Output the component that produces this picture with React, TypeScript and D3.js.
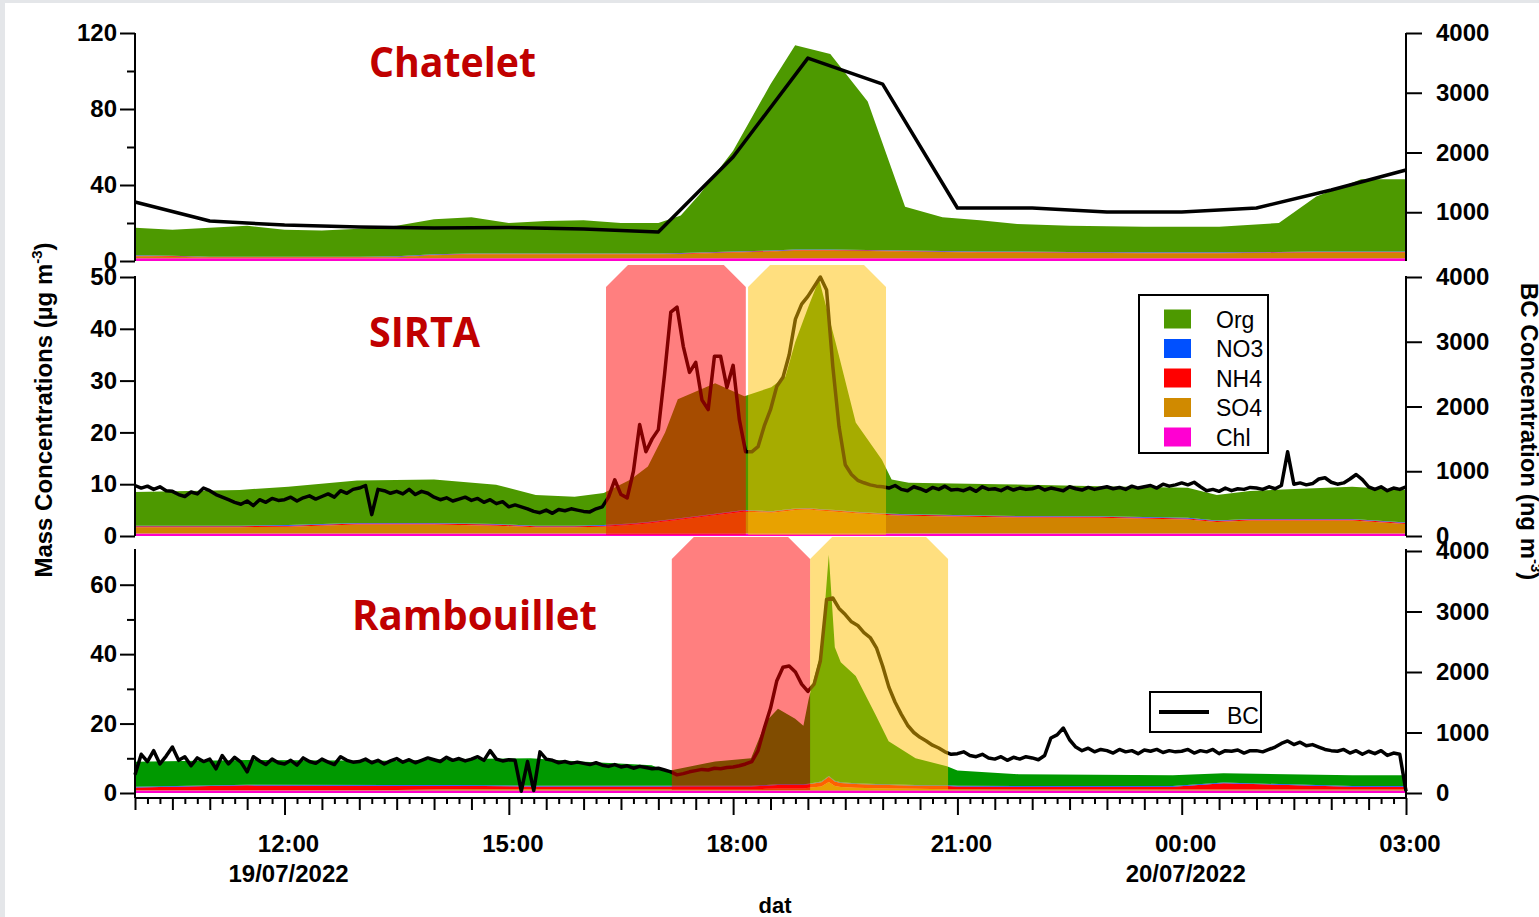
import { useEffect, useRef } from 'react';
import * as d3 from 'd3';

const WIDTH = 1539;
const HEIGHT = 917;
const X0 = 135;
const X1 = 1406;
const FONT = '"Liberation Sans", Arial, sans-serif';

// stacking order, bottom to top (Igor "fill to next")
const species = ['Chl', 'SO4', 'NH4', 'NO3', 'Org'];
const legendNames = ['Org', 'NO3', 'NH4', 'SO4', 'Chl'];
const legendColors = ['#4d9900', '#0050ff', '#ff0000', '#d08a00', '#ff00d2'];

// ---- Chatelet (times in decimal hours from 19/07 00:00)
const chatTimes = [10, 10.5, 11, 11.5, 12, 12.5, 13, 13.5, 14, 14.5, 15, 15.5, 16, 16.5, 17, 17.3, 17.55, 18, 18.5, 18.83, 19.3, 19.8, 20.3, 20.8, 21.3, 21.8, 22.5, 23.5, 24.5, 25.3, 25.8, 26.4, 27];
const chatOrg = [14.5, 13.7, 15.2, 16.2, 14.2, 13.7, 14.7, 16.0, 18.5, 19.0, 16.0, 17.0, 17.5, 16.0, 16.0, 19.8, 30.5, 53.0, 87.5, 107.5, 103.0, 78.2, 23.0, 17.8, 16.5, 14.5, 13.7, 13.4, 13.4, 15.2, 29.0, 38.0, 38.0];
const chatNO3 = [0.2, 0.2, 0.2, 0.2, 0.2, 0.2, 0.2, 0.2, 0.2, 0.2, 0.2, 0.2, 0.2, 0.2, 0.2, 0.2, 0.2, 0.2, 0.2, 0.2, 0.2, 0.2, 0.2, 0.2, 0.2, 0.2, 0.2, 0.2, 0.2, 0.2, 0.2, 0.2, 0.2];
const chatNH4 = [0.3, 0.3, 0.3, 0.3, 0.3, 0.3, 0.3, 0.3, 0.3, 0.3, 0.3, 0.3, 0.3, 0.3, 0.3, 0.3, 0.3, 0.3, 0.3, 0.3, 0.3, 0.3, 0.3, 0.3, 0.3, 0.3, 0.3, 0.3, 0.3, 0.3, 0.3, 0.3, 0.3];
const chatSO4 = [1.0, 0.8, 0.3, 0.3, 0.3, 0.3, 0.3, 0.5, 1.5, 2.0, 2.0, 2.0, 2.0, 2.0, 2.0, 2.2, 2.5, 3.0, 3.5, 4.0, 4.0, 3.8, 3.5, 3.2, 3.0, 3.0, 2.8, 2.6, 2.6, 2.8, 3.0, 3.0, 3.0];
const chatChl = [1.5, 1.5, 1.5, 1.5, 1.5, 1.5, 1.5, 1.5, 1.5, 1.5, 1.5, 1.5, 1.5, 1.5, 1.5, 1.5, 1.5, 1.5, 1.5, 1.5, 1.5, 1.5, 1.5, 1.5, 1.5, 1.5, 1.5, 1.5, 1.5, 1.5, 1.5, 1.5, 1.5];
const chatBcTimes = [10, 11, 12, 13, 14, 15, 16, 17, 18, 19, 20, 21, 22, 23, 24, 25, 26, 27];
const chatBc = [1171, 853, 786, 753, 736, 745, 719, 669, 1924, 3580, 3145, 1071, 1071, 1004, 1004, 1071, 1372, 1707];

// ---- SIRTA
const sirtaTimes = [10, 11.4, 12.05, 12.97, 14.0, 14.83, 15.36, 15.88, 16.27, 16.63, 16.86, 17.09, 17.26, 17.76, 18.15, 18.51, 18.7, 18.83, 19.01, 19.15, 19.37, 19.64, 19.99, 20.12, 20.35, 21.56, 22.9, 24.08, 24.47, 24.91, 26.28, 27];
const sirtaOrg = [6.5, 6.9, 7.4, 8.2, 8.4, 7.6, 5.9, 5.6, 6.2, 8.5, 10.7, 16.9, 23.0, 25.2, 22.0, 23.9, 25.7, 32.1, 39.0, 44.3, 32.4, 17.2, 10.3, 6.6, 6.1, 6.1, 5.8, 5.8, 4.9, 5.4, 6.2, 6.3];
const sirtaNO3 = [0.1, 0.1, 0.1, 0.1, 0.1, 0.1, 0.1, 0.1, 0.1, 0.1, 0.1, 0.1, 0.1, 0.1, 0.1, 0.1, 0.1, 0.1, 0.1, 0.1, 0.1, 0.1, 0.1, 0.1, 0.1, 0.1, 0.1, 0.1, 0.1, 0.1, 0.1, 0.1];
const sirtaNH4 = [0.2, 0.2, 0.2, 0.2, 0.2, 0.2, 0.2, 0.2, 0.2, 0.2, 0.2, 0.2, 0.2, 0.2, 0.2, 0.2, 0.2, 0.2, 0.2, 0.2, 0.2, 0.2, 0.2, 0.2, 0.2, 0.2, 0.2, 0.2, 0.2, 0.2, 0.2, 0.2];
const sirtaSO4 = [1.2, 1.2, 1.3, 1.7, 1.7, 1.5, 1.2, 1.2, 1.3, 1.6, 1.9, 2.3, 2.6, 3.5, 4.2, 4.0, 4.3, 4.5, 4.6, 4.4, 4.2, 3.9, 3.6, 3.5, 3.4, 3.1, 3.0, 2.7, 2.2, 2.5, 2.5, 1.8];
const sirtaChl = [0.5, 0.5, 0.5, 0.5, 0.5, 0.5, 0.5, 0.5, 0.5, 0.5, 0.5, 0.5, 0.5, 0.5, 0.5, 0.5, 0.5, 0.5, 0.5, 0.5, 0.5, 0.5, 0.5, 0.5, 0.5, 0.5, 0.5, 0.5, 0.5, 0.5, 0.5, 0.5];
// 5-min BC from 10:00 19/07 to 03:00 20/07
const sirtaBc = [
  780, 740, 770, 720, 760, 700, 690, 640, 610, 680, 650, 740,
  700, 640, 600, 560, 520, 490, 540, 470, 560, 520, 580, 550,
  560, 600, 540, 590, 620, 570, 610, 650, 600, 700, 660, 720,
  740, 780, 330, 720, 700, 660, 690, 650, 720, 640, 690, 660,
  600, 560, 590, 540, 570, 600, 550, 580, 520, 560, 500, 530,
  450, 480, 450, 420, 380, 360, 400, 350, 410, 390, 420, 400,
  380, 372, 420, 450, 600, 868, 640, 589, 1000, 1721, 1302, 1500,
  1643, 2500, 3457, 3535, 2930, 2527, 2682, 2100, 1953, 2775, 2775, 2294,
  2636, 1798, 1302, 1300, 1380, 1700, 1950, 2310, 2450, 2800, 3350, 3580,
  3700, 3850, 4000, 3800, 2620, 1690, 1100, 950, 860, 822, 790, 770,
  760, 740, 780, 720, 700, 760, 730, 690, 750, 720, 770, 710,
  720, 700, 740, 690, 760, 720, 730, 700, 750, 710, 740, 720,
  730, 760, 710, 740, 720, 700, 760, 730, 710, 750, 720, 740,
  760, 730, 750, 720, 770, 740, 760, 780, 740, 800, 770, 790,
  820, 790, 830, 760, 700, 720, 690, 740, 700, 730, 720, 750,
  740, 720, 760, 730, 780, 1300, 800, 820, 790, 810, 880, 900,
  830, 800, 820, 880, 950, 870, 760, 720, 760, 700, 740, 720,
  760,
];

// ---- Rambouillet
const rambTimes = [10, 11.5, 13.5, 14.3, 15.29, 15.95, 16.91, 17.11, 17.76, 18.24, 18.44, 18.6, 18.83, 18.94, 19.01, 19.18, 19.28, 19.36, 19.44, 19.64, 19.91, 20.08, 20.44, 20.86, 21.0, 21.82, 23.88, 24.56, 26.28, 26.96, 27];
const rambOrg = [7.2, 7.1, 7.0, 7.5, 7.9, 7.0, 5.9, 4.2, 7.0, 7.9, 18.3, 21.8, 18.9, 16.9, 24.3, 37.7, 63.7, 38.5, 34.6, 30.9, 19.7, 12.4, 7.7, 5.5, 4.4, 3.4, 3.1, 2.7, 3.1, 3.1, 3.1];
const rambNO3 = [0.2, 0.2, 0.2, 0.2, 0.2, 0.2, 0.2, 0.2, 0.2, 0.2, 0.2, 0.2, 0.2, 0.2, 0.2, 0.2, 0.2, 0.2, 0.2, 0.2, 0.2, 0.2, 0.2, 0.2, 0.2, 0.2, 0.2, 0.2, 0.2, 0.2, 0.2];
const rambNH4 = [0.8, 1.4, 1.2, 1.0, 0.8, 0.8, 0.8, 0.8, 0.8, 0.8, 0.9, 1.0, 1.0, 1.0, 1.0, 1.2, 1.5, 1.3, 1.2, 1.1, 1.0, 1.0, 0.9, 0.9, 0.8, 0.8, 0.8, 1.8, 0.8, 0.8, 0.8];
const rambSO4 = [0.1, 0.1, 0.2, 0.4, 0.4, 0.4, 0.4, 0.4, 0.4, 0.4, 0.5, 0.6, 0.6, 0.6, 0.8, 1.2, 2.5, 1.3, 1.0, 0.8, 0.7, 0.6, 0.5, 0.4, 0.4, 0.3, 0.3, 0.3, 0.3, 0.3, 0.3];
const rambChl = [0.7, 0.7, 0.7, 0.7, 0.7, 0.7, 0.7, 0.7, 0.7, 0.7, 0.7, 0.7, 0.7, 0.7, 0.7, 0.7, 0.7, 0.7, 0.7, 0.7, 0.7, 0.7, 0.7, 0.7, 0.7, 0.7, 0.7, 0.7, 0.7, 0.7, 0.7];
const rambBc = [
  300, 640, 520, 700, 480, 610, 760, 540, 600, 450, 580, 520,
  560, 400, 620, 480, 590, 510, 350, 600, 530, 470, 560, 500,
  480, 540, 460, 580, 520, 490, 560, 510, 470, 600, 540, 510,
  520, 560, 500, 540, 480, 530, 570, 510, 550, 500, 540, 580,
  550, 520, 590, 540, 570, 530, 560, 600, 540, 700, 560, 530,
  550, 540, 30, 520, 40, 680, 560, 540, 500, 520, 490, 510,
  490, 470, 500, 460, 440, 470, 430, 450, 410, 440, 420, 400,
  410, 380, 350, 300, 320, 350, 370, 390, 380, 410, 400, 420,
  430, 450, 480, 520, 700, 1070, 1400, 1850, 2080, 2100, 2000, 1800,
  1680, 1800, 2182, 3200, 3223, 3050, 2950, 2830, 2770, 2650, 2570, 2400,
  2100, 1750, 1500, 1300, 1120, 1000, 920, 860, 790, 744, 680, 640,
  650, 680, 620, 600, 640, 580, 560, 600, 540, 590, 560, 600,
  580, 550, 620, 909, 960, 1074, 880, 760, 700, 740, 680, 720,
  700, 660, 720, 680, 700, 650, 710, 690, 720, 670, 700, 680,
  690, 720, 660, 700, 680, 720, 650, 700, 690, 710, 660, 700,
  700, 680, 720, 760, 820, 860, 800, 840, 780, 800, 760, 720,
  700, 690, 720, 660, 700, 640, 690, 650, 700, 620, 660, 640,
  30,
];

// highlighted episodes (start hour, end hour)
const sirtaEvents = [[16.3, 18.17], [18.2, 20.045]];
const rambEvents = [[17.18, 19.03], [19.03, 20.875]];
const eventColors = ['rgba(255,0,0,0.5)', 'rgba(255,192,0,0.5)'];

const xMajorHours = [12, 15, 18, 21, 24, 27];
const xMajorLabels = ['12:00', '15:00', '18:00', '21:00', '00:00', '03:00'];
const xDateLabels = ['19/07/2022', '', '', '', '20/07/2022', ''];

const base = new Date(2022, 6, 19).getTime();
const toDate = (h: number) => new Date(base + h * 3600000);
const fiveMin = (n: number) => d3.range(n).map((i) => 10 + i / 12);

const panels = [
  {
    title: 'Chatelet', titleX: 369, titleY: 77, titleLen: 167,
    top: 33, bottom: 261, yMax: 120, yTicks: [0, 40, 80, 120], yMinor: [20, 60, 100],
    bcMin: 184, bcTop: 33, bcTicks: [1000, 2000, 3000, 4000], spine: [33, 261],
    orgColor: '#4d9900',
    times: chatTimes, Org: chatOrg, NO3: chatNO3, NH4: chatNH4, SO4: chatSO4, Chl: chatChl,
    bcTimes: chatBcTimes, bc: chatBc, events: [] as number[][], evTop: 0, evBottom: 0,
  },
  {
    title: 'SIRTA', titleX: 369, titleY: 347, titleLen: 111,
    top: 277, bottom: 536, yMax: 50, yTicks: [0, 10, 20, 30, 40, 50], yMinor: [] as number[],
    bcMin: 0, bcTop: 277, bcTicks: [0, 1000, 2000, 3000, 4000], spine: [276, 536],
    orgColor: '#4d9900',
    times: sirtaTimes, Org: sirtaOrg, NO3: sirtaNO3, NH4: sirtaNH4, SO4: sirtaSO4, Chl: sirtaChl,
    bcTimes: fiveMin(sirtaBc.length), bc: sirtaBc, events: sirtaEvents, evTop: 265, evBottom: 535,
  },
  {
    title: 'Rambouillet', titleX: 352, titleY: 630, titleLen: 245,
    top: 550, bottom: 793, yMax: 70, yTicks: [0, 20, 40, 60], yMinor: [10, 30, 50],
    bcMin: 0, bcTop: 551, bcTicks: [0, 1000, 2000, 3000, 4000], spine: [549, 798],
    orgColor: '#009900',
    times: rambTimes, Org: rambOrg, NO3: rambNO3, NH4: rambNH4, SO4: rambSO4, Chl: rambChl,
    bcTimes: fiveMin(rambBc.length), bc: rambBc, events: rambEvents, evTop: 537, evBottom: 790,
  },
];

const speciesColor: Record<string, string> = {
  Chl: '#ff00cc',
  SO4: '#d08400',
  NH4: '#ff0000',
  NO3: '#0047ff',
};

function styleAxis(g: any, size = 24) {
  g.select('.domain').remove();
  g.selectAll('line').attr('stroke', '#000').attr('stroke-width', 2);
  g.selectAll('text')
    .attr('font-family', FONT)
    .attr('font-size', size)
    .attr('font-weight', 'bold')
    .attr('fill', '#000');
}

export default function App() {
  const ref = useRef<SVGSVGElement | null>(null);

  useEffect(() => {
    if (!ref.current) return;
    const svg = d3.select(ref.current);
    svg.selectAll('*').remove();

    // page frame
    svg.append('rect').attr('width', WIDTH).attr('height', HEIGHT).attr('fill', '#e4e6e9');
    svg.append('rect').attr('x', 5).attr('y', 3).attr('width', WIDTH - 5).attr('height', HEIGHT - 3).attr('fill', '#fff');

    const x = d3.scaleTime().domain([toDate(10), toDate(27)]).range([X0, X1]);

    panels.forEach((p) => {
      const g = svg.append('g');
      const y = d3.scaleLinear().domain([0, p.yMax]).range([p.bottom, p.top]);
      const yBc = d3.scaleLinear().domain([p.bcMin, 4000]).range([p.bottom, p.bcTop]);

      const rows = p.times.map((t, i) => ({
        t,
        Chl: p.Chl[i],
        SO4: p.SO4[i],
        NH4: p.NH4[i],
        NO3: p.NO3[i],
        Org: p.Org[i],
      }));
      const stacked = d3.stack<any>().keys(species)(rows);
      const area = d3
        .area<any>()
        .x((d) => x(toDate(d.data.t)))
        .y0((d) => y(d[0]))
        .y1((d) => y(d[1]));

      g.selectAll('path.layer')
        .data(stacked)
        .join('path')
        .attr('class', 'layer')
        .attr('d', area)
        .attr('fill', (d) => (d.key === 'Org' ? p.orgColor : speciesColor[d.key]));

      const line = d3
        .line<number>()
        .x((_, i) => x(toDate(p.bcTimes[i])))
        .y((d) => yBc(d));
      g.append('path')
        .attr('d', line(p.bc))
        .attr('fill', 'none')
        .attr('stroke', '#000')
        .attr('stroke-width', 3.5)
        .attr('stroke-linejoin', 'round');

      // shaded episodes with snipped top corners
      const c = 22;
      p.events.forEach((ev, i) => {
        const a = x(toDate(ev[0]));
        const b = x(toDate(ev[1]));
        g.append('path')
          .attr('d', `M${a},${p.evBottom}V${p.evTop + c}L${a + c},${p.evTop}H${b - c}L${b},${p.evTop + c}V${p.evBottom}Z`)
          .attr('fill', eventColors[i]);
      });

      // left axis
      const la = g.append('g').attr('transform', `translate(${X0},0)`)
        .call(d3.axisLeft(y).tickValues(p.yTicks).tickSize(15).tickPadding(3).tickFormat(d3.format('d')));
      styleAxis(la);
      if (p.yMinor.length) {
        const lm = g.append('g').attr('transform', `translate(${X0},0)`)
          .call(d3.axisLeft(y).tickValues(p.yMinor).tickSize(8).tickFormat(() => ''));
        styleAxis(lm);
      }
      // right axis
      const ra = g.append('g').attr('transform', `translate(${X1},0)`)
        .call(d3.axisRight(yBc).tickValues(p.bcTicks).tickSize(16).tickPadding(14).tickFormat(d3.format('d')));
      styleAxis(ra);

      [X0, X1].forEach((xx) =>
        g.append('line')
          .attr('x1', xx).attr('x2', xx)
          .attr('y1', p.spine[0]).attr('y2', p.spine[1])
          .attr('stroke', '#000').attr('stroke-width', 2)
      );

      g.append('text')
        .attr('x', p.titleX)
        .attr('y', p.titleY)
        .attr('textLength', p.titleLen)
        .attr('lengthAdjust', 'spacingAndGlyphs')
        .attr('font-family', '"Open Sans", "Noto Sans", sans-serif')
        .attr('font-weight', 'bold')
        .attr('font-size', 42)
        .attr('fill', '#c00000')
        .text(p.title);
    });

    // bottom time axis
    const xAxisY = 798;
    const minuteTicks = d3.timeMinute.every(10)!.range(toDate(10), new Date(toDate(27).getTime() + 1000));
    const xa = svg.append('g').attr('transform', `translate(0,${xAxisY})`)
      .call(d3.axisBottom(x).tickValues(minuteTicks).tickSize(6).tickFormat(() => ''));
    styleAxis(xa);
    xa.selectAll('.tick line').attr('y2', (d: any) => {
      const m = d.getMinutes();
      const h = d.getHours();
      if (m === 0 && h % 3 === 0) return 17;
      if (m % 30 === 0) return 12;
      return 6;
    });
    svg.append('line')
      .attr('x1', X0).attr('x2', X1).attr('y1', xAxisY).attr('y2', xAxisY)
      .attr('stroke', '#000').attr('stroke-width', 2);

    const xl = svg.append('g')
      .attr('font-family', FONT)
      .attr('font-size', 24)
      .attr('font-weight', 'bold')
      .attr('text-anchor', 'middle');
    xMajorHours.forEach((h, i) => {
      const px = x(toDate(h)) + 4;
      xl.append('text').attr('x', px).attr('y', 852).text(xMajorLabels[i]);
      if (xDateLabels[i]) xl.append('text').attr('x', px).attr('y', 882).text(xDateLabels[i]);
    });
    xl.append('text').attr('x', 775).attr('y', 913).attr('font-size', 22).text('dat');

    // axis titles
    const yl = svg.append('text')
      .attr('transform', 'translate(52,410) rotate(-90)')
      .attr('text-anchor', 'middle')
      .attr('font-family', FONT)
      .attr('font-size', 24)
      .attr('font-weight', 'bold');
    yl.append('tspan').text('Mass Concentrations (\u00b5g m');
    yl.append('tspan').attr('dy', -10).attr('font-size', 15).text('-3');
    yl.append('tspan').attr('dy', 10).text(')');

    const yr = svg.append('text')
      .attr('transform', 'translate(1521,283) rotate(90)')
      .attr('font-family', FONT)
      .attr('font-size', 24)
      .attr('font-weight', 'bold');
    yr.append('tspan').text('BC Concentration (ng m');
    yr.append('tspan').attr('dy', -10).attr('font-size', 15).text('-3');
    yr.append('tspan').attr('dy', 10).text(')');

    // species legend
    const lg = svg.append('g');
    lg.append('rect')
      .attr('x', 1139).attr('y', 295).attr('width', 129).attr('height', 158)
      .attr('fill', '#fff').attr('stroke', '#000').attr('stroke-width', 2);
    legendNames.forEach((name, i) => {
      const cy = 319 + i * 29.5;
      lg.append('rect').attr('x', 1164).attr('y', cy - 9.5).attr('width', 27).attr('height', 19).attr('fill', legendColors[i]);
      lg.append('text')
        .attr('x', 1216).attr('y', cy + 8.5)
        .attr('font-family', FONT).attr('font-size', 23)
        .text(name);
    });

    // BC legend
    const lb = svg.append('g');
    lb.append('rect')
      .attr('x', 1150).attr('y', 692).attr('width', 111).attr('height', 40)
      .attr('fill', '#fff').attr('stroke', '#000').attr('stroke-width', 2);
    lb.append('line').attr('x1', 1159).attr('x2', 1209).attr('y1', 712).attr('y2', 712)
      .attr('stroke', '#000').attr('stroke-width', 4);
    lb.append('text').attr('x', 1227).attr('y', 724)
      .attr('font-family', FONT).attr('font-size', 23).text('BC');
  }, []);

  return <svg ref={ref} width={WIDTH} height={HEIGHT} style={{ position: 'absolute', left: 0, top: 0 }} />;
}
